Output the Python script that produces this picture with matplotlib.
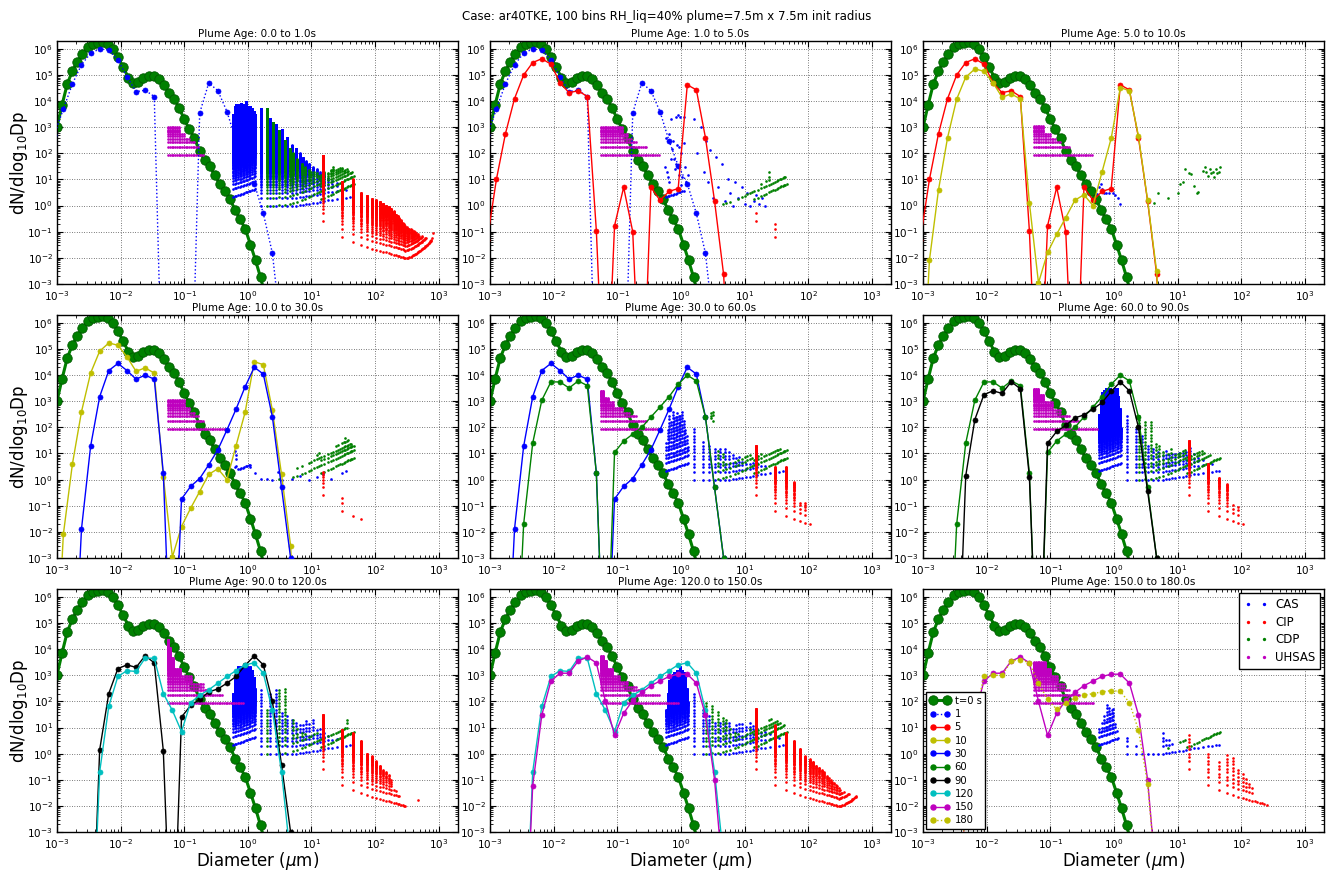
import numpy as np
import matplotlib
matplotlib.use('Agg')
import matplotlib.pyplot as plt
from matplotlib.lines import Line2D
from matplotlib.ticker import FixedLocator, NullFormatter

plt.rcParams['font.family'] = ['DejaVu Sans']
plt.rcParams['axes.unicode_minus'] = False

# old matplotlib single-letter colours
C_B, C_G, C_R, C_C, C_M, C_Y, C_K = '#0000ff', '#008000', '#ff0000', '#00bfbf', '#bf00bf', '#bfbf00', '#000000'

SUPTITLE = "Case: ar40TKE, 100 bins RH_liq=40% plume=7.5m x 7.5m init radius"
AGE_EDGES = [0, 1, 5, 10, 30, 60, 90, 120, 150, 180]
X_DECADES = [1e-3, 1e-2, 1e-1, 1e0, 1e1, 1e2, 1e3]
Y_DECADES = [1e-3, 1e-2, 1e-1, 1e0, 1e1, 1e2, 1e3, 1e4, 1e5, 1e6]

# ---------------- model size distributions ----------------
T0_D = [1e-3, 1.2e-3, 1.45e-3, 1.74e-3, 2.09e-3, 2.51e-3, 3.02e-3, 3.63e-3, 4.37e-3, 5.25e-3,
        6.31e-3, 7.59e-3, 9.12e-3, 1.10e-2, 1.32e-2, 1.58e-2, 1.91e-2, 2.29e-2, 2.75e-2, 3.31e-2,
        3.98e-2, 4.79e-2, 5.75e-2, 6.92e-2, 8.32e-2, 0.1, 0.12, 0.145, 0.174, 0.209,
        0.251, 0.302, 0.363, 0.437, 0.525, 0.631, 0.759, 0.912, 1.10, 1.32, 1.58, 1.91]
T0_N = [1e3, 7e3, 4.5e4, 1.4e5, 3.2e5, 6.3e5, 1.15e6, 1.5e6, 1.75e6, 1.8e6,
        1.5e6, 1e6, 4.7e5, 2e5, 8e4, 4.8e4, 5.6e4, 8e4, 9.3e4, 9e4,
        7e4, 4e4, 2.1e4, 1.2e4, 5.6e3, 2e3, 850, 380, 120, 58,
        32, 15, 6.6, 3.7, 1.8, 0.65, 0.3, 0.126, 0.032, 0.008, 1.8e-3, 3e-4]

MODEL_D = [9.06e-4, 1.26e-3, 1.75e-3, 2.43e-3, 3.38e-3, 4.69e-3, 6.52e-3, 9.06e-3, 1.26e-2, 1.75e-2,
           2.43e-2, 3.38e-2, 4.69e-2, 6.52e-2, 9.06e-2, 0.126, 0.175, 0.243, 0.338, 0.469,
           0.652, 0.906, 1.26, 1.75, 2.43, 3.38, 4.69, 6.52]
N_1S = [500, 5e3, 4.6e4, 2.5e5, 6.8e5, 1e6, 9e5, 3.8e5, 8.7e4, 2.3e4, 2.6e4, 1.5e4, 1e-9, 1e-9,
        1e-9, 1e-9, 3.5e3, 5e4, 2.5e4, 4e3, 300, 34, 7, 0.5, 0.015, 1e-5, 1e-9, 1e-9]
N_5S = [0.05, 10, 570, 1.25e4, 1e5, 3e5, 4.2e5, 2.6e5, 5e4, 2.1e4, 2.5e4, 1.5e4, 0.11, 1e-9,
        0.17, 5, 0.1, 1e-9, 5, 1.6, 3.5, 4.5, 4.2e4, 2.7e4, 400, 1.5, 2.3e-3, 1e-9]
N_10S = [1e-9, 8e-3, 4, 400, 1.2e4, 8.3e4, 1.7e5, 1.4e5, 5e4, 1.4e4, 1.9e4, 1.2e4, 1.3, 1.1e-3,
         0.016, 0.08, 0.35, 1.6, 2.6, 1.0, 20, 380, 3.3e4, 2.5e4, 450, 1.6, 3e-3, 1e-9]
N_30S = [1e-9, 1e-9, 1e-9, 0.013, 19, 1.5e3, 1.5e4, 2.8e4, 1.5e4, 7e3, 1e4, 7e3, 1.8, 1e-9,
         0.18, 0.55, 1.1, 3.7, 14, 80, 500, 3.6e3, 2e4, 1.1e4, 250, 0.5, 1e-3, 1e-9]
N_60S = [1e-9, 1e-9, 1e-9, 1e-9, 0.02, 25, 1.1e3, 5.5e3, 5.5e3, 3.2e3, 6e3, 4e3, 1.8, 1e-9,
         11, 30, 55, 100, 250, 600, 1.5e3, 4.5e3, 1e4, 6e3, 250, 0.5, 1e-3, 1e-9]
N_90S = [1e-9, 1e-9, 1e-9, 1e-9, 1e-9, 1.4, 200, 1.8e3, 2.5e3, 2e3, 5.6e3, 3e3, 1.3, 1e-9,
         25, 70, 120, 230, 300, 500, 900, 2.4e3, 5.5e3, 2.5e3, 100, 0.37, 1e-3, 1e-9]
N_120S = [1e-9, 1e-9, 1e-9, 1e-9, 1e-9, 0.2, 65, 900, 1.5e3, 1.4e3, 4.5e3, 4.5e3, 200, 45,
          7, 90, 170, 280, 500, 900, 1.5e3, 2.5e3, 3e3, 1.2e3, 45, 0.2, 1e-4, 1e-9]
N_150S = [1e-9, 1e-9, 1e-9, 1e-9, 1e-9, 0.06, 30, 600, 1.2e3, 1.2e3, 3.5e3, 5e3, 3e3, 100,
          5, 35, 110, 220, 400, 600, 900, 1.1e3, 1.1e3, 500, 30, 0.1, 1e-5, 1e-9]
N_180S = [1e-9, 1e-9, 1e-9, 1e-9, 1e-9, 0.05, 25, 900, 1e3, 1e3, 3.5e3, 4e3, 3e3, 500,
          120, 50, 90, 130, 170, 200, 230, 260, 240, 90, 8, 0.07, 1e-5, 1e-9]

MODEL_KEYS = ['1', '5', '10', '30', '60', '90', '120', '150', '180']
MODEL_N = [N_1S, N_5S, N_10S, N_30S, N_60S, N_90S, N_120S, N_150S, N_180S]
MODEL_COLOR = [C_B, C_R, C_Y, C_B, C_G, C_K, C_C, C_M, C_Y]
MODEL_LS = [':', '-', '-', '-', '-', '-', '-', '-', ':']
PANEL_MODELS = [['1'], ['1', '5'], ['5', '10'], ['10', '30'], ['30', '60'],
                ['60', '90'], ['90', '120'], ['120', '150'], ['150', '180']]

# ---------------- aircraft probes ----------------
# every probe bin shows dots at whole-count multiples of its one-count level, up to the top read per panel
CAS_FINE_D = [0.58, 0.62, 0.66, 0.70, 0.74, 0.78, 0.83, 0.88, 0.93, 0.98, 1.04, 1.10, 1.17, 1.24, 1.31]
CAS_FINE_ONE = [2.2, 2.3, 2.4, 2.5, 2.6, 2.7, 2.9, 3.0, 3.2, 3.3, 3.5, 3.7, 3.9, 4.1, 4.4]
CAS_D = [1.6, 2.2, 2.8, 3.4, 4.1, 5.0, 5.8, 6.6, 7.4, 8.3, 9.2, 10.5, 12, 13.5, 15.5, 18, 21,
         25, 30, 35, 40, 45]
CAS_ONE = [1.0, 1.0, 1.0, 1.0, 1.0, 1.0, 1.0, 1.1, 1.1, 1.2, 1.2, 1.3, 1.3, 1.4, 1.5, 1.6, 1.7,
           1.8, 1.9, 2.0, 2.1, 2.2]
CDP_D = [2.0, 2.5, 3.1, 3.8, 4.6, 5.2, 6.0, 7.0, 8.0, 9.0, 10, 11, 12, 13, 14, 16, 18, 20, 22,
         24, 26, 28, 30, 32, 34, 36, 38, 40, 42, 44, 46]
CDP_ONE = [1.0, 1.0, 1.05, 1.1, 1.2, 1.3, 1.4, 1.6, 1.8, 2.1, 2.4, 2.7, 3.0, 3.4, 1.8, 2.0,
           2.3, 2.6, 2.9, 3.2, 3.5, 3.8, 4.1, 4.4, 4.7, 5.0, 5.4, 5.7, 6.0, 6.3, 6.6]
CIP_D = list(range(15, 811, 15))
CIP_ONE = [0.25, 0.065, 0.042, 0.032, 0.026, 0.022, 0.02, 0.018, 0.017, 0.016, 0.015, 0.014, 0.013,
           0.0125, 0.012, 0.0115, 0.011, 0.0105, 0.01, 0.0095, 0.0098, 0.0102, 0.0107, 0.0112,
           0.0118, 0.0124, 0.013, 0.0137, 0.0144, 0.0152, 0.016, 0.0169, 0.0178, 0.0188, 0.0198,
           0.021, 0.022, 0.0233, 0.0246, 0.026, 0.0275, 0.029, 0.0306, 0.0323, 0.034, 0.036, 0.038,
           0.04, 0.043, 0.046, 0.05, 0.055, 0.06, 0.09]
UHSAS_D = np.geomspace(0.056, 0.95, 46)
UHSAS_ONE = 90.0

DENSE = np.arange(1, 5001)
LADDER = np.array([1, 2, 3, 4, 6, 8, 11, 15, 20, 27, 36, 48, 64, 85, 115, 150, 200, 270, 360,
                   480, 640, 850, 1150, 1500, 2000])

CAS_FINE_TOP = [
    [3e3, 6e3, 7e3, 7e3, 6e3, 8e3, 6e3, 7e3, 9e3, 6e3, 5e3, 6e3, 5e3, 4e3, 3e3],
    [2.3, 2.4, 2.5, 2.6, 2.7, 2.8, 3.0, 3.1, 3.3, 3.4, 3.6, 3.8, 0, 0, 0],
    [],
    [0, 0, 0, 2.6, 2.7, 2.8, 3.0, 3.1, 3.3, 3.4, 3.6, 3.8, 0, 0, 0],
    [30, 100, 300, 200, 400, 300, 250, 400, 300, 350, 500, 200, 100, 50, 20],
    [300, 1e3, 2e3, 2.5e3, 3e3, 3e3, 2.5e3, 3e3, 2e3, 2.5e3, 3e3, 3e3, 1.5e3, 500, 100],
    [200, 800, 1.5e3, 2e3, 1.5e3, 2e3, 2e3, 2.5e3, 2e3, 2e3, 1.5e3, 2e3, 1.5e3, 800, 300],
    [50, 200, 600, 800, 1e3, 1.2e3, 1.2e3, 1.5e3, 1.5e3, 2e3, 1.5e3, 1.2e3, 800, 300, 100],
    [10, 8, 15, 30, 20, 80, 60, 40, 50, 60, 20, 10, 5, 4, 4],
]
CAS_FINE_MODE = ['dense', 'dense', 'dense', 'dense', 'ladder', 'dense', 'dense', 'dense', 'ladder']
CAS_TOP = [
    [5e3, 2e3, 1.2e3, 800, 400, 200, 150, 100, 70, 50, 40, 30, 25, 20, 15, 12, 10, 8, 6, 5, 4, 4],
    [], [], [],
    [100, 30, 20, 15, 15, 15, 12, 10, 8, 8, 6, 5, 5, 5, 5, 4, 4, 3, 3, 3, 3, 2.5],
    [300, 100, 50, 20, 15, 12, 10, 15, 12, 10, 10, 12, 12, 15, 20, 10, 8, 6, 5, 5, 4, 4],
    [300, 200, 300, 40, 30, 20, 15, 15, 15, 20, 15, 20, 10, 10, 8, 6, 5, 4, 4, 3.5, 3, 3],
    [200, 50, 30, 15, 15, 15, 15, 12, 15, 15, 15, 12, 15, 12, 10, 8, 8, 6, 5, 5, 4, 4],
    [5, 2, 1.2, 1.5, 1.5, 1.5, 7, 4, 4, 3, 1.5, 1.3, 1.3, 1.5, 1.5, 1.6, 1.7, 1.8, 1.9, 2, 2.1, 2.2],
]
CAS_MODE = ['dense', 'ladder', 'ladder', 'ladder', 'ladder', 'ladder', 'ladder', 'ladder', 'ladder']
CAS_EXTRA = [
    [],
    [(0.56, 30), (0.58, 400), (0.6, 20), (0.62, 12), (0.66, 550), (0.7, 2000), (0.72, 150),
     (0.75, 300), (0.78, 60), (0.8, 25), (0.83, 2500), (0.86, 200), (0.9, 3000), (0.92, 15),
     (0.95, 180), (0.98, 2500), (1.02, 100), (1.05, 12), (1.1, 2500), (1.12, 250), (1.15, 30),
     (1.2, 8), (0.65, 8), (0.7, 60), (0.85, 40), (1.0, 6), (1.3, 15), (1.6, 2000), (1.8, 100),
     (2.1, 1000), (2.3, 20), (2.5, 300), (2.7, 8), (2.9, 130), (3.2, 2), (3.5, 70), (3.8, 5),
     (4.5, 40), (5, 1.5), (5.5, 10), (6, 3), (6.5, 1), (7, 8), (8, 2), (9, 5), (10, 1.2),
     (11, 3), (12, 1), (14, 1.5), (15, 2.5), (17, 1.2), (19, 2), (21, 1)],
    [(0.55, 2.8), (0.58, 5), (0.62, 7), (0.66, 4.5), (0.7, 3), (0.76, 3), (0.85, 3), (0.95, 3),
     (1.05, 2.5), (1.15, 2), (1.24, 1.2)],
    [(0.62, 12), (0.64, 9), (0.66, 6), (0.62, 3), (0.66, 3.2), (1.1, 3), (1.3, 1.8), (1.6, 1.1),
     (2.0, 1.05), (2.4, 1.0), (3.0, 1.9), (3.5, 1.0), (5, 1.1), (6.5, 1.4), (9, 1.0), (12, 1.3),
     (15, 1.6), (20, 1.1), (30, 1.8), (35, 2.1)],
    [], [], [], [], [],
]
CDP_TOP = [
    [8e3, 1.5e3, 700, 300, 150, 100, 60, 40, 30, 25, 20, 20, 20, 15, 15, 20, 20, 25, 30, 25,
     25, 30, 30, 25, 25, 25, 25, 20, 20, 20, 15],
    [0, 0, 0, 0, 1.3, 1.4, 2, 0, 2, 2.2, 2.5, 3, 5, 6, 4, 4.5, 8, 6, 9, 20, 8, 10, 10, 10, 11,
     12, 12, 12, 12, 13, 13],
    [],
    [0, 0, 1.1, 0, 0, 1.5, 3, 4, 3, 5, 5, 8, 10, 12, 8, 10, 12, 15, 15, 20, 25, 20, 30, 35, 38,
     30, 35, 30, 25, 25, 20],
    [0, 0, 0, 15, 10, 5, 5, 6, 7, 8, 8, 10, 10, 8, 6, 8, 10, 10, 10, 12, 12, 14, 14, 15, 15,
     15, 16, 16, 16, 17, 17],
    [0, 300, 200, 200, 30, 20, 15, 12, 15, 10, 10, 12, 12, 15, 8, 10, 10, 12, 15, 15, 12, 10,
     10, 10, 9, 9, 8, 8, 8, 7, 7],
    [50, 0, 300, 350, 0, 25, 10, 8, 6, 5, 6, 6, 6, 5, 5, 5, 6, 6, 7, 8, 8, 8, 9, 9, 10, 20, 10,
     10, 10, 10, 10],
    [0, 100, 80, 50, 30, 20, 10, 8, 6, 6, 7, 8, 10, 10, 8, 10, 12, 14, 15, 20, 25, 18, 20, 18,
     15, 15, 14, 13, 12, 12, 12],
    [0, 0, 0, 0, 0, 0, 0, 1.6, 0, 0, 0, 2.8, 3.1, 3.5, 2.5, 2.8, 3, 3.2, 3.3, 3.5, 3.8, 4.2,
     4.5, 4.8, 5, 9, 5.5, 5.8, 6.2, 6.5, 7],
]
CDP_MODE = ['dense', 'ladder', 'ladder', 'ladder', 'ladder', 'ladder', 'ladder', 'ladder', 'ladder']
CDP_EXTRA = [
    [], [],
    [(4.2, 1.3), (5, 3), (7, 2), (10, 3), (11, 7), (12, 8), (13, 25), (15, 18), (16, 16),
     (18, 5.5), (20, 3), (21, 3.2), (25, 22), (27, 30), (28, 20), (30, 13), (32, 25), (34, 17),
     (36, 20), (38, 12), (40, 25), (42, 18), (44, 20), (46, 30)],
    [],
    [(3.0, 350), (3.0, 280), (3.0, 220), (3.2, 400), (3.2, 300), (3.2, 180)],
    [], [], [], [],
]
CIP_TOP = [
    [80, 8, 10, 3, 2.4, 1.8, 1.6, 1.4, 1.2, 1.0, 0.9, 0.75, 0.6, 0.45, 0.4, 0.33, 0.28, 0.22, 0.19,
     0.17, 0.15, 0.14, 0.13, 0.125, 0.12, 0.11, 0.105, 0.1, 0.095, 0.09, 0.085, 0.08, 0.078, 0.075,
     0.072, 0.07, 0.068, 0.065, 0.063, 0.06, 0.06, 0.06, 0.058, 0.058, 0.056, 0.056, 0.055, 0.055,
     0.055, 0.055, 0.06, 0.06, 0, 0.1],
    [0.6, 0.2],
    [],
    [2, 0.2, 0.045, 0.035],
    [20, 3, 3, 0.8, 0.15, 0.15, 0.025],
    [30, 4, 1.2, 0.7, 0.12, 0.1, 0.025],
    [30, 8, 6, 3, 1.0, 0.8, 0.5, 0.35, 0.25, 0.2, 0.15, 0.1, 0.05, 0.04, 0.03, 0.025, 0.02, 0.012,
     0.011, 0.01, 0, 0, 0, 0, 0, 0, 0, 0, 0, 0, 0, 0.02],
    [50, 12, 6, 3, 1.5, 0.8, 0.6, 0.5, 0.35, 0.3, 0.25, 0.2, 0.15, 0.12, 0.1, 0.09, 0.08, 0.07,
     0.06, 0.05, 0.045, 0.04, 0.035, 0.035, 0.033, 0.03, 0.03, 0.03, 0.03, 0.03, 0.03, 0.03, 0.03,
     0.03, 0.03, 0.03, 0.03, 0.03],
    [5, 1, 0.5, 0.9, 0.8, 0.3, 0.2, 0.13, 0.1, 0.06, 0.02, 0.02, 0.015, 0.013, 0.012, 0.011, 0.011],
]
CIP_MODE = ['dense', 'ladder', 'dense', 'dense', 'dense', 'dense', 'dense', 'dense', 'ladder']
# (highest count, last diameter reached by the rows up to that count)
UHSAS_STEPS = [
    [(1, 0.2), (2, 0.17), (3, 0.15), (4, 0.12), (6, 0.1), (11, 0.085)],
    [(1, 0.45), (2, 0.3), (3, 0.2), (4, 0.17), (6, 0.15), (11, 0.12)],
    [(1, 0.45), (2, 0.2), (3, 0.15), (4, 0.12), (6, 0.1), (12, 0.08)],
    [(1, 0.45), (2, 0.2), (3, 0.17), (4, 0.15), (6, 0.12), (12, 0.1)],
    [(1, 0.45), (2, 0.3), (3, 0.2), (4, 0.16), (6, 0.12), (10, 0.09), (15, 0.075), (28, 0.062)],
    [(1, 0.55), (2, 0.27), (3, 0.2), (5, 0.15), (10, 0.11), (20, 0.08), (33, 0.065)],
    [(1, 0.85), (2, 0.4), (3, 0.25), (5, 0.2), (10, 0.13), (20, 0.09), (50, 0.07), (120, 0.062),
     (250, 0.058)],
    [(1, 0.9), (2, 0.45), (3, 0.25), (4, 0.2), (6, 0.15), (10, 0.11), (20, 0.085), (40, 0.07),
     (60, 0.062)],
    [(1, 0.5), (2, 0.3), (3, 0.2), (5, 0.17), (10, 0.13), (20, 0.1), (35, 0.085)],
]


def probe_dots(d, one, tops, mode, extra=()):
    counts = DENSE if mode == 'dense' else LADDER
    xs, ys = [], []
    for di, oi, ti in zip(d, one, tops):
        c = counts[counts * oi <= ti * 1.001]
        xs.append(np.full(c.size, di))
        ys.append(c * oi)
    for di, vi in extra:
        xs.append([di])
        ys.append([vi])
    if not xs:
        return np.array([]), np.array([])
    return np.concatenate(xs), np.concatenate(ys)


def uhsas_dots(steps):
    xs, ys = [], []
    m = 1
    for m_max, x_end in steps:
        sel = UHSAS_D[UHSAS_D <= x_end]
        for mm in range(m, m_max + 1):
            xs.append(sel)
            ys.append(np.full(sel.size, mm * UHSAS_ONE))
        m = m_max + 1
    return np.concatenate(xs), np.concatenate(ys)


def minor_ticks(decades, top):
    t = [d * s for d in decades for s in range(2, 10)]
    return [v for v in t if v <= top]


fig, axes = plt.subplots(3, 3, figsize=(13.34, 8.71), dpi=100)
fig.subplots_adjust(left=0.0427, right=0.9925, bottom=0.0448, top=0.9529, wspace=0.08, hspace=0.128)
fig.suptitle(SUPTITLE, fontsize=8.5, y=0.988)

dot = dict(ls='none', marker='o', ms=1.9, mew=0, zorder=3)

for i, ax in enumerate(axes.flat):
    ax.set_xscale('log')
    ax.set_yscale('log')

    ax.plot(T0_D, T0_N, '-o', color=C_G, lw=2.2, ms=6.8, mec='#005a00', mew=0.6, zorder=2)

    x, y = probe_dots(CAS_FINE_D, CAS_FINE_ONE, CAS_FINE_TOP[i], CAS_FINE_MODE[i], CAS_EXTRA[i])
    ax.plot(x, y, color=C_B, **dot)
    x, y = probe_dots(CAS_D, CAS_ONE, CAS_TOP[i], CAS_MODE[i])
    ax.plot(x, y, color=C_B, **dot)
    x, y = probe_dots(CDP_D, CDP_ONE, CDP_TOP[i], CDP_MODE[i], CDP_EXTRA[i])
    ax.plot(x, y, color=C_G, **dot)
    x, y = probe_dots(CIP_D, CIP_ONE, CIP_TOP[i], CIP_MODE[i])
    ax.plot(x, y, color=C_R, **dot)
    x, y = uhsas_dots(UHSAS_STEPS[i])
    ax.plot(x, y, color=C_M, **dot)

    for key in PANEL_MODELS[i]:
        j = MODEL_KEYS.index(key)
        ax.plot(MODEL_D, MODEL_N[j], ls=MODEL_LS[j], marker='o', color=MODEL_COLOR[j],
                lw=1.0, ms=3.6, mec=MODEL_COLOR[j], mew=0.5, zorder=4)

    ax.set_xlim(1e-3, 2e3)
    ax.set_ylim(1e-3, 2e6)
    ax.xaxis.set_major_locator(FixedLocator(X_DECADES))
    ax.xaxis.set_minor_locator(FixedLocator(minor_ticks(X_DECADES, 2e3)))
    ax.yaxis.set_major_locator(FixedLocator(Y_DECADES))
    ax.yaxis.set_minor_locator(FixedLocator(minor_ticks(Y_DECADES, 2e6)))
    ax.xaxis.set_minor_formatter(NullFormatter())
    ax.yaxis.set_minor_formatter(NullFormatter())
    ax.tick_params(which='both', direction='in', top=True, right=True, labelsize=7.5)
    ax.tick_params(axis='x', pad=4)
    ax.tick_params(axis='y', pad=3)
    ax.tick_params(which='major', length=4.5, width=0.8)
    ax.tick_params(which='minor', length=2.2, width=0.6)
    ax.grid(True, which='major', color='k', lw=0.5, ls=(0, (1, 2.5)))
    for s in ax.spines.values():
        s.set_linewidth(1.0)
    ax.set_title(f"Plume Age: {AGE_EDGES[i]:.1f} to {AGE_EDGES[i + 1]:.1f}s", fontsize=7.5, pad=3)

for r in range(3):
    axes[r, 0].set_ylabel(r'dN/dlog$_{10}$Dp', fontsize=12)
    axes[r, 0].yaxis.set_label_coords(-0.066, 0.5)
for c in range(3):
    axes[2, c].set_xlabel(r'Diameter ($\mu$m)', fontsize=12)
    axes[2, c].xaxis.set_label_coords(0.5, -0.074)

# legends in the last panel
ax9 = axes[2, 2]
model_handles = [Line2D([], [], color=C_G, marker='o', lw=2.2, ms=6.8, mec='#005a00', mew=0.6,
                        label='t=0 s')]
for j, key in enumerate(MODEL_KEYS):
    model_handles.append(Line2D([], [], color=MODEL_COLOR[j], ls=MODEL_LS[j], marker='o', lw=1.0,
                                ms=3.6, mec=MODEL_COLOR[j], label=key))
leg1 = ax9.legend(handles=model_handles, loc='lower left', fontsize=7.2, numpoints=2,
                  handlelength=2.0, labelspacing=0.33, borderpad=0.35, handletextpad=0.5,
                  borderaxespad=0.3, fancybox=False, edgecolor='k', framealpha=1)
leg1.get_frame().set_linewidth(1.0)
ax9.add_artist(leg1)

probe_handles = [Line2D([], [], ls='none', marker='o', ms=2.4, mew=0, color=c, label=l)
                 for c, l in [(C_B, 'CAS'), (C_R, 'CIP'), (C_G, 'CDP'), (C_M, 'UHSAS')]]
leg2 = ax9.legend(handles=probe_handles, loc='upper right', fontsize=8.5, numpoints=2,
                  handlelength=2.0, labelspacing=0.4, borderpad=0.4, handletextpad=0.6,
                  borderaxespad=0.35, fancybox=False, edgecolor='k', framealpha=1)
leg2.get_frame().set_linewidth(1.0)

fig.savefig('out.png', dpi=100, facecolor='white')
